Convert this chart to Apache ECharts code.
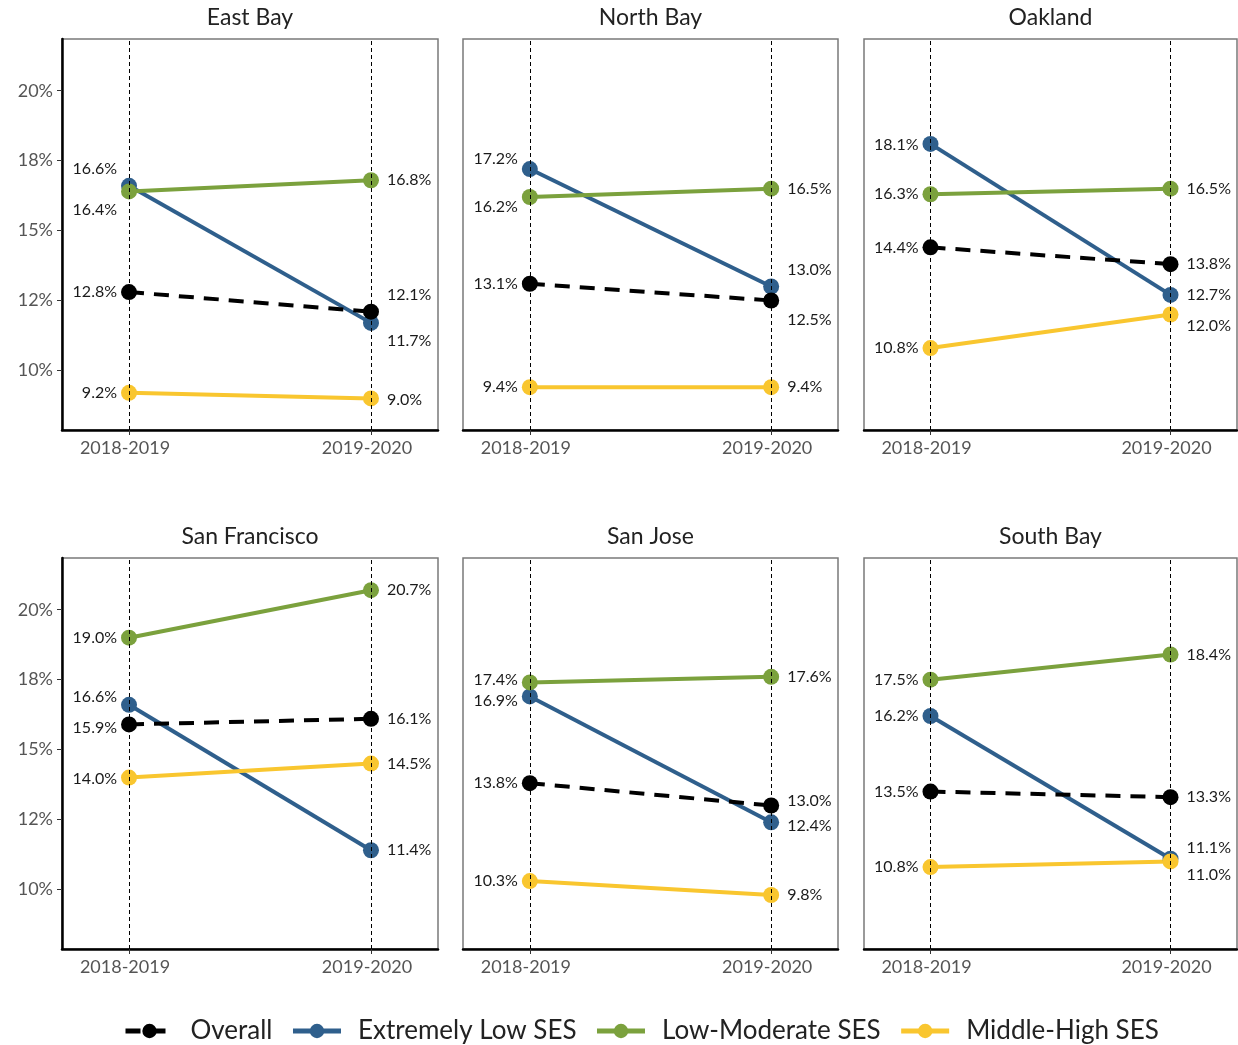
<!DOCTYPE html>
<html>
<head>
<meta charset="utf-8">
<script src="https://cdn.jsdelivr.net/npm/echarts@6/dist/echarts.min.js"></script>
<style>
html,body{margin:0;padding:0;background:#fff;}
#chart{width:1238px;height:1045px;}
</style>
</head>
<body>
<div id="chart"></div>
<script>
// ---- data ----
var regions = ['East Bay', 'North Bay', 'Oakland', 'San Francisco', 'San Jose', 'South Bay'];
var years = ['2018-2019', '2019-2020'];
var groups = ['Overall', 'Extremely Low SES', 'Low-Moderate SES', 'Middle-High SES'];
var overall      = [[12.8, 12.1], [13.1, 12.5], [14.4, 13.8], [15.9, 16.1], [13.8, 13.0], [13.5, 13.3]];
var extremelyLow = [[16.6, 11.7], [17.2, 13.0], [18.1, 12.7], [16.6, 11.4], [16.9, 12.4], [16.2, 11.1]];
var lowModerate  = [[16.4, 16.8], [16.2, 16.5], [16.3, 16.5], [19.0, 20.7], [17.4, 17.6], [17.5, 18.4]];
var middleHigh   = [[9.2, 9.0],   [9.4, 9.4],   [10.8, 12.0], [14.0, 14.5], [10.3, 9.8],  [10.8, 11.0]];
var yTickValues = [10, 12.5, 15, 17.5, 20];
var yTickLabels = ['10%', '12%', '15%', '18%', '20%'];

// ---- styling / label nudges (vertical px offsets, [region][year]) ----
var groupSeries = [overall, extremelyLow, lowModerate, middleHigh];
var colors = ['#000000', '#2F5F8C', '#7BA13D', '#F9C62F'];
var nudges = {
  'Overall':           [[0, -17], [0, 19], [0, 0], [3, 0], [0, -5], [0, 0]],
  'Extremely Low SES': [[-17, 18], [-10, -17], [1, 0], [-8, 0], [4, 4], [0, -11]],
  'Low-Moderate SES':  [[18, 0], [10, 0], [0, 0], [0, 0], [-3, 0], [0, 0]],
  'Middle-High SES':   [[0, 1], [0, 0], [0, 11], [1, 0], [0, 0], [0, 13]]
};

var FONT = 'Lato';
var colLeft = [62, 463, 864];
var colWidth = [376, 375, 373];
var rowTop = [39, 558];
var rowHeight = 391;

var grids = [], xAxes = [], yAxes = [], series = [], graphics = [];
regions.forEach(function (reg, r) {
  var col = r % 3, row = Math.floor(r / 3);
  grids.push({
    left: colLeft[col], top: rowTop[row], width: colWidth[col], height: rowHeight,
    show: true, borderColor: '#7a7a7a', borderWidth: 1.5, backgroundColor: 'transparent'
  });
  xAxes.push({
    type: 'value', gridIndex: r, min: 0.723, max: 2.277,
    axisLine: { show: true, onZero: false, lineStyle: { color: '#000', width: 2.5 } },
    axisTick: { show: true, customValues: [1, 2], length: 5, lineStyle: { color: '#333', width: 1 } },
    axisLabel: {
      show: true, customValues: [1, 2], margin: 9,
      formatter: function (v) { return years[Math.round(v) - 1] || ''; },
      fontFamily: FONT, fontSize: 18, color: '#555', padding: [0, 8, 0, 0]
    },
    splitLine: { show: false }
  });
  yAxes.push({
    type: 'value', gridIndex: r, min: 7.87, max: 21.85,
    axisLine: { show: col === 0, onZero: false, lineStyle: { color: '#000', width: 2.5 } },
    axisTick: { show: col === 0, customValues: yTickValues, length: 5, lineStyle: { color: '#333', width: 1 } },
    axisLabel: {
      show: col === 0, customValues: yTickValues, margin: 9,
      formatter: function (v) {
        var i = yTickValues.indexOf(v);
        return i >= 0 ? yTickLabels[i] : '';
      },
      fontFamily: FONT, fontSize: 18, color: '#555'
    },
    splitLine: { show: false }
  });
  groups.forEach(function (g, gi) {
    var vals = groupSeries[gi][r];
    var data = vals.map(function (v, yi) {
      var dy = nudges[g][r][yi];
      return {
        value: [yi + 1, v],
        label: {
          position: yi === 0 ? 'left' : 'right',
          distance: yi === 0 ? 4 : 8,
          offset: [0, dy]
        }
      };
    });
    series.push({
      name: g, type: 'line', xAxisIndex: r, yAxisIndex: r,
      data: data, symbol: 'circle', symbolSize: 16,
      color: colors[gi],
      lineStyle: { color: colors[gi], width: 4, type: gi === 0 ? [15, 10] : 'solid' },
      itemStyle: { color: colors[gi] },
      z: gi === 0 ? 6 : 3,
      animation: false,
      label: {
        show: true, fontFamily: FONT, fontSize: 16, color: '#1a1a1a',
        formatter: function (p) { return p.value[1].toFixed(1) + '%'; }
      },
      emphasis: { disabled: true }
    });
  });
  // vertical dashed reference lines at each year
  series.push({
    type: 'line', xAxisIndex: r, yAxisIndex: r, data: [], z: 10, silent: true,
    markLine: {
      silent: true, symbol: 'none', animation: false, label: { show: false },
      lineStyle: { color: '#000', width: 1, type: [4, 3] },
      data: [{ xAxis: 1 }, { xAxis: 2 }]
    }
  });
  graphics.push({
    type: 'text', x: colLeft[col] + colWidth[col] / 2, y: rowTop[row] - 21,
    style: { text: reg, font: '23px ' + FONT, fill: '#222', textAlign: 'center', textVerticalAlign: 'middle' }
  });
});

var chart = echarts.init(document.getElementById('chart'), null, { renderer: 'canvas' });
chart.setOption({
  animation: false,
  backgroundColor: '#fff',
  grid: grids,
  xAxis: xAxes,
  yAxis: yAxes,
  series: series,
  graphic: graphics,
  legend: {
    data: groups, left: 118, top: 1013,
    itemWidth: 48, itemHeight: 18, itemGap: 18,
    lineStyle: { width: 5 },
    textStyle: { fontFamily: FONT, fontSize: 26, color: '#222', padding: [0, 0, 0, 12] }
  }
});
</script>
</body>
</html>
